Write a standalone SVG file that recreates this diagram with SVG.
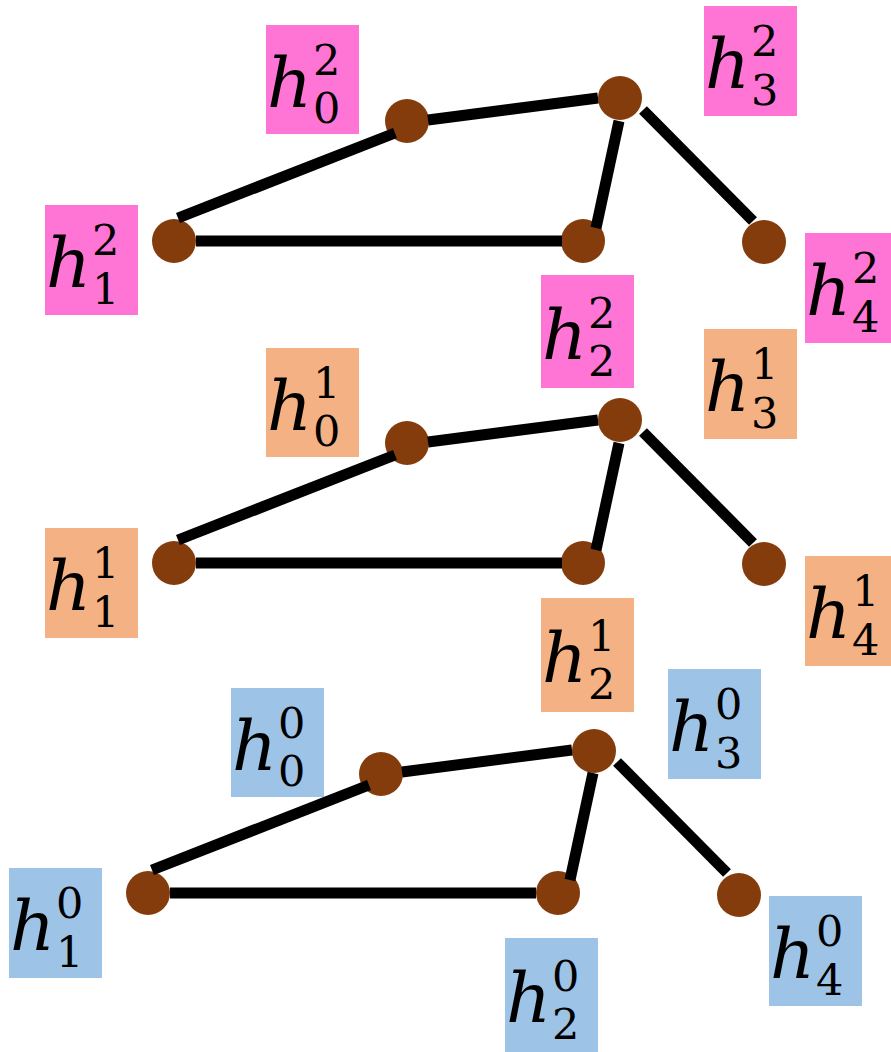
<svg xmlns="http://www.w3.org/2000/svg" width="891" height="1052" viewBox="0 0 891 1052">
  <style>
    .bg { fill: #ffffff; }
    .node { fill: #843C0C; }
    .edge { stroke: #000000; stroke-width: 11; stroke-linecap: butt; fill: none; }
    .l2 { fill: #FF75D6; }
    .l1 { fill: #F4B183; }
    .l0 { fill: #9DC3E6; }
    .lbl { font-family: "DejaVu Serif", "Liberation Serif", serif; font-size: 43px; fill: #000; }
    .sym { font-style: italic; font-size: 70px; }
  </style>
  <rect class="bg" x="0" y="0" width="891" height="1052"/>

  <!-- ===== Layer 2 (pink) ===== -->
  <g id="L2-h0">
    <circle class="node" cx="407" cy="121" r="22"/>
    <rect class="l2" x="266" y="25" width="93" height="109"/>
    <text class="lbl"><tspan class="sym" x="267" y="107">h</tspan><tspan x="313" y="75">2</tspan><tspan x="313" y="123">0</tspan></text>
  </g>
  <g id="L2-h1">
    <circle class="node" cx="174" cy="241" r="22"/>
    <rect class="l2" x="45" y="205" width="93" height="110"/>
    <text class="lbl"><tspan class="sym" x="46" y="287">h</tspan><tspan x="92" y="255">2</tspan><tspan x="92" y="304">1</tspan></text>
  </g>
  <g id="L2-h2">
    <circle class="node" cx="583" cy="241" r="22"/>
    <rect class="l2" x="541" y="275" width="93" height="113"/>
    <text class="lbl"><tspan class="sym" x="542" y="359">h</tspan><tspan x="588" y="328">2</tspan><tspan x="588" y="376">2</tspan></text>
  </g>
  <g id="L2-h3">
    <circle class="node" cx="620" cy="98" r="22"/>
    <rect class="l2" x="704" y="6" width="93" height="110"/>
    <text class="lbl"><tspan class="sym" x="705" y="88">h</tspan><tspan x="751" y="56">2</tspan><tspan x="751" y="105">3</tspan></text>
  </g>
  <g id="L2-h4">
    <circle class="node" cx="764" cy="242" r="22"/>
    <rect class="l2" x="805" y="233" width="93" height="110"/>
    <text class="lbl"><tspan class="sym" x="806" y="315">h</tspan><tspan x="852" y="283">2</tspan><tspan x="852" y="332">4</tspan></text>
  </g>

  <!-- ===== Layer 1 (peach) ===== -->
  <g id="L1-h0">
    <circle class="node" cx="407" cy="443" r="22"/>
    <rect class="l1" x="266" y="348" width="93" height="109"/>
    <text class="lbl"><tspan class="sym" x="267" y="430">h</tspan><tspan x="313" y="398">1</tspan><tspan x="313" y="446">0</tspan></text>
  </g>
  <g id="L1-h1">
    <circle class="node" cx="174" cy="563" r="22"/>
    <rect class="l1" x="45" y="528" width="93" height="110"/>
    <text class="lbl"><tspan class="sym" x="46" y="610">h</tspan><tspan x="92" y="578">1</tspan><tspan x="92" y="627">1</tspan></text>
  </g>
  <g id="L1-h2">
    <circle class="node" cx="583" cy="563" r="22"/>
    <rect class="l1" x="541" y="598" width="93" height="114"/>
    <text class="lbl"><tspan class="sym" x="542" y="682">h</tspan><tspan x="588" y="651">1</tspan><tspan x="588" y="699">2</tspan></text>
  </g>
  <g id="L1-h3">
    <circle class="node" cx="620" cy="420" r="22"/>
    <rect class="l1" x="704" y="329" width="93" height="110"/>
    <text class="lbl"><tspan class="sym" x="705" y="411">h</tspan><tspan x="751" y="379">1</tspan><tspan x="751" y="428">3</tspan></text>
  </g>
  <g id="L1-h4">
    <circle class="node" cx="764" cy="564" r="22"/>
    <rect class="l1" x="805" y="556" width="93" height="110"/>
    <text class="lbl"><tspan class="sym" x="806" y="638">h</tspan><tspan x="852" y="606">1</tspan><tspan x="852" y="655">4</tspan></text>
  </g>

  <!-- ===== Layer 0 (blue) ===== -->
  <g id="L0-h0">
    <circle class="node" cx="381" cy="774" r="22"/>
    <rect class="l0" x="231" y="688" width="93" height="109"/>
    <text class="lbl"><tspan class="sym" x="232" y="770">h</tspan><tspan x="278" y="738">0</tspan><tspan x="278" y="786">0</tspan></text>
  </g>
  <g id="L0-h1">
    <circle class="node" cx="148" cy="893" r="22"/>
    <rect class="l0" x="9" y="868" width="93" height="110"/>
    <text class="lbl"><tspan class="sym" x="10" y="950">h</tspan><tspan x="56" y="918">0</tspan><tspan x="56" y="967">1</tspan></text>
  </g>
  <g id="L0-h2">
    <circle class="node" cx="558" cy="893" r="22"/>
    <rect class="l0" x="505" y="938" width="93" height="114"/>
    <text class="lbl"><tspan class="sym" x="506" y="1022">h</tspan><tspan x="552" y="991">0</tspan><tspan x="552" y="1039">2</tspan></text>
  </g>
  <g id="L0-h3">
    <circle class="node" cx="594" cy="751" r="22"/>
    <rect class="l0" x="668" y="669" width="93" height="110"/>
    <text class="lbl"><tspan class="sym" x="669" y="751">h</tspan><tspan x="715" y="719">0</tspan><tspan x="715" y="768">3</tspan></text>
  </g>
  <g id="L0-h4">
    <circle class="node" cx="739" cy="895" r="22"/>
    <rect class="l0" x="769" y="896" width="93" height="110"/>
    <text class="lbl"><tspan class="sym" x="770" y="978">h</tspan><tspan x="816" y="946">0</tspan><tspan x="816" y="995">4</tspan></text>
  </g>

  <!-- ===== Connectors (drawn over the node discs) ===== -->
  <g id="connectors">
    <g id="edges-L2">
      <line class="edge" x1="178" y1="218" x2="395" y2="133"/>
      <line class="edge" x1="428" y1="120" x2="598" y2="98"/>
      <line class="edge" x1="196" y1="241" x2="562" y2="241"/>
      <line class="edge" x1="619" y1="121" x2="596" y2="228"/>
      <line class="edge" x1="643" y1="110" x2="753" y2="221"/>
    </g>
    <g id="edges-L1">
      <line class="edge" x1="178" y1="540" x2="395" y2="455"/>
      <line class="edge" x1="428" y1="442" x2="598" y2="420"/>
      <line class="edge" x1="196" y1="563" x2="562" y2="563"/>
      <line class="edge" x1="619" y1="443" x2="596" y2="550"/>
      <line class="edge" x1="643" y1="432" x2="753" y2="543"/>
    </g>
    <g id="edges-L0">
      <line class="edge" x1="152" y1="870" x2="369" y2="785"/>
      <line class="edge" x1="402" y1="772" x2="572" y2="750"/>
      <line class="edge" x1="170" y1="893" x2="536" y2="893"/>
      <line class="edge" x1="593" y1="773" x2="570" y2="880"/>
      <line class="edge" x1="617" y1="762" x2="727" y2="873"/>
    </g>
  </g>
</svg>
